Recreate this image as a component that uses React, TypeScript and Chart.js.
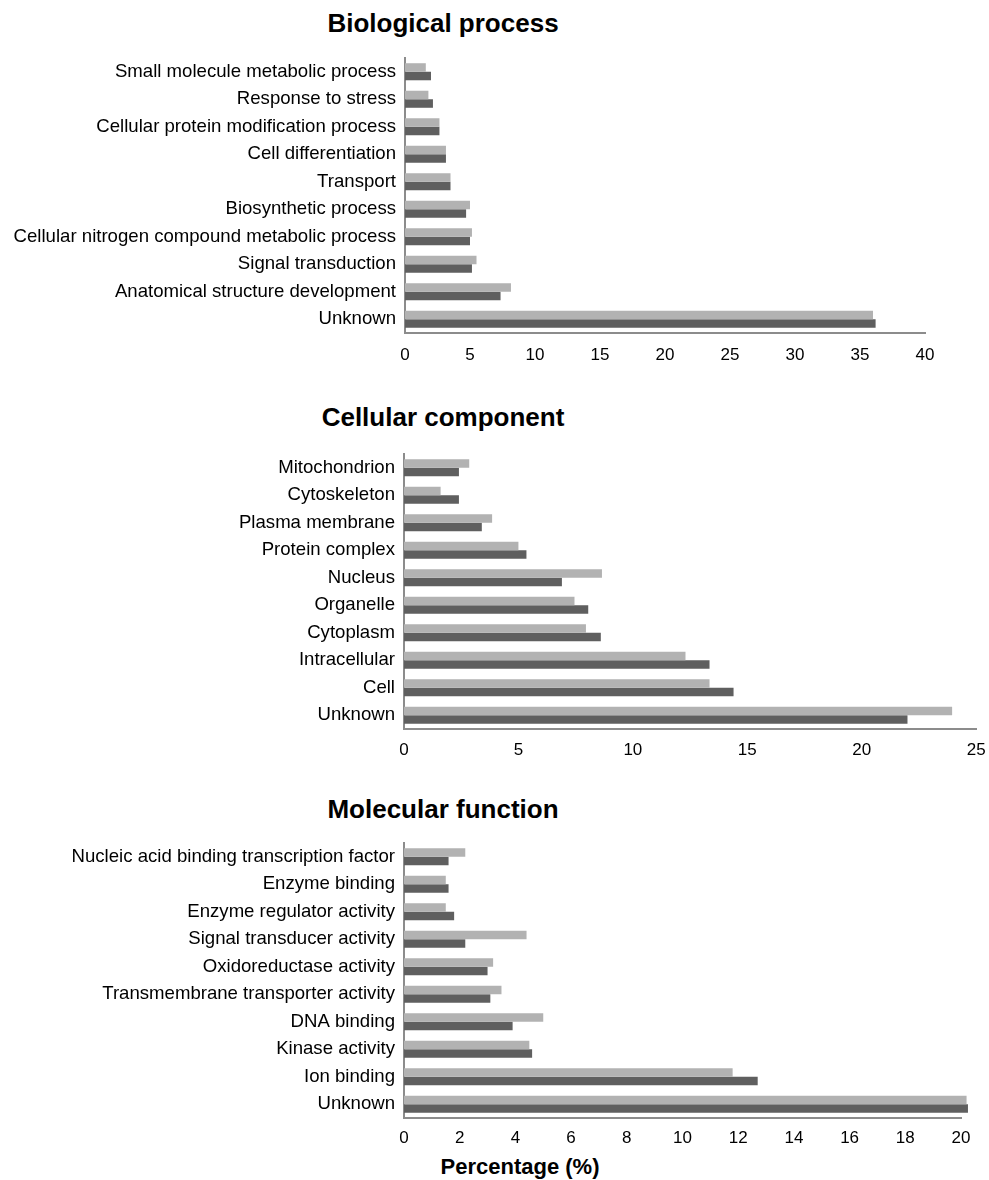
import React, { useEffect, useRef } from "react";
import { Chart, registerables } from "chart.js";

Chart.register(...registerables);

const FONT = "'Liberation Sans', Arial, Helvetica, sans-serif";

// Biological process
const bpCategories = [
  "Small molecule metabolic process",
  "Response to stress",
  "Cellular protein modification process",
  "Cell differentiation",
  "Transport",
  "Biosynthetic process",
  "Cellular nitrogen compound metabolic process",
  "Signal transduction",
  "Anatomical structure development",
  "Unknown",
];
const bpLight = [1.6, 1.8, 2.65, 3.15, 3.5, 5.0, 5.15, 5.5, 8.15, 36.0];
const bpDark = [2.0, 2.15, 2.65, 3.15, 3.5, 4.7, 5.0, 5.15, 7.35, 36.2];

// Cellular component
const ccCategories = [
  "Mitochondrion",
  "Cytoskeleton",
  "Plasma membrane",
  "Protein complex",
  "Nucleus",
  "Organelle",
  "Cytoplasm",
  "Intracellular",
  "Cell",
  "Unknown",
];
const ccLight = [2.85, 1.6, 3.85, 5.0, 8.65, 7.45, 7.95, 12.3, 13.35, 23.95];
const ccDark = [2.4, 2.4, 3.4, 5.35, 6.9, 8.05, 8.6, 13.35, 14.4, 22.0];

// Molecular function
const mfCategories = [
  "Nucleic acid binding transcription factor",
  "Enzyme binding",
  "Enzyme regulator activity",
  "Signal transducer activity",
  "Oxidoreductase activity",
  "Transmembrane transporter activity",
  "DNA binding",
  "Kinase activity",
  "Ion binding",
  "Unknown",
];
const mfLight = [2.2, 1.5, 1.5, 4.4, 3.2, 3.5, 5.0, 4.5, 11.8, 20.2];
const mfDark = [1.6, 1.6, 1.8, 2.2, 3.0, 3.1, 3.9, 4.6, 12.7, 20.25];

const LIGHT = "#b2b2b2";
const DARK = "#5f5f5f";
const AXIS = "#8c8c8c";

type PanelProps = {
  labels: string[];
  light: number[];
  dark: number[];
  max: number;
  step: number;
  top: number;
  height: number;
  padTop: number;
  axisHeight: number;
  plotLeft: number;
  padRight: number;
  tickPad: number;
};

function BarPanel(p: PanelProps) {
  const ref = useRef<HTMLCanvasElement>(null);
  useEffect(() => {
    if (!ref.current) return;
    const chart = new Chart(ref.current, {
      type: "bar",
      data: {
        labels: p.labels,
        datasets: [
          {
            data: p.light,
            backgroundColor: LIGHT,
            borderWidth: 0,
            clip: false as any,
            barPercentage: 1,
            categoryPercentage: 0.62,
          },
          {
            data: p.dark,
            backgroundColor: DARK,
            borderWidth: 0,
            clip: false as any,
            barPercentage: 1,
            categoryPercentage: 0.62,
          },
        ],
      },
      options: {
        indexAxis: "y",
        animation: false,
        responsive: false,
        devicePixelRatio: 1,
        layout: {
          padding: { top: p.padTop, left: 0, right: p.padRight, bottom: 0 },
        },
        plugins: {
          legend: { display: false },
          tooltip: { enabled: false },
          title: { display: false },
        },
        scales: {
          x: {
            min: 0,
            max: p.max,
            grid: { display: false },
            border: { display: true, color: AXIS, width: 2 },
            ticks: {
              stepSize: p.step,
              padding: p.tickPad,
              color: "#000",
              font: { family: FONT, size: 17 },
              maxRotation: 0,
            },
            afterFit: (s: any) => {
              s.height = p.axisHeight;
            },
          },
          y: {
            grid: { display: false },
            border: { display: true, color: AXIS, width: 2 },
            ticks: {
              padding: 1,
              color: "#000",
              font: { family: FONT, size: 18.6 },
              autoSkip: false,
            },
            afterFit: (s: any) => {
              s.width = p.plotLeft;
            },
          },
        },
      },
    });
    return () => chart.destroy();
  }, []);
  return (
    <canvas
      ref={ref}
      width={989}
      height={p.height}
      style={{ position: "absolute", left: 0, top: p.top, width: 989, height: p.height }}
    />
  );
}

const titleStyle = (centerY: number, size: number, centerX: number): React.CSSProperties => ({
  position: "absolute",
  left: centerX - 300,
  width: 600,
  top: centerY - size * 0.6,
  height: size * 1.2,
  lineHeight: `${size * 1.2}px`,
  textAlign: "center",
  fontFamily: FONT,
  fontWeight: "bold",
  fontSize: size,
  color: "#000",
  whiteSpace: "nowrap",
});

export default function App() {
  return (
    <div
      style={{
        position: "absolute",
        left: 0,
        top: 0,
        width: 989,
        height: 1180,
        background: "#fff",
        overflow: "hidden",
      }}
    >
      <div style={titleStyle(24, 26, 443)}>Biological process</div>
      <BarPanel
        labels={bpCategories}
        light={bpLight}
        dark={bpDark}
        max={40}
        step={5}
        top={40}
        height={345}
        padTop={18}
        axisHeight={52}
        plotLeft={405}
        padRight={64}
        tickPad={4.4}
      />
      <div style={titleStyle(418, 26, 443)}>Cellular component</div>
      <BarPanel
        labels={ccCategories}
        light={ccLight}
        dark={ccDark}
        max={25}
        step={5}
        top={440}
        height={345}
        padTop={14}
        axisHeight={56}
        plotLeft={404}
        padRight={0}
        tickPad={3.4}
      />
      <div style={titleStyle(810, 26, 443)}>Molecular function</div>
      <BarPanel
        labels={mfCategories}
        light={mfLight}
        dark={mfDark}
        max={20}
        step={2}
        top={830}
        height={320}
        padTop={13}
        axisHeight={32}
        plotLeft={404}
        padRight={28}
        tickPad={2.4}
      />
      <div style={titleStyle(1167, 22, 520)}>Percentage (%)</div>
    </div>
  );
}
